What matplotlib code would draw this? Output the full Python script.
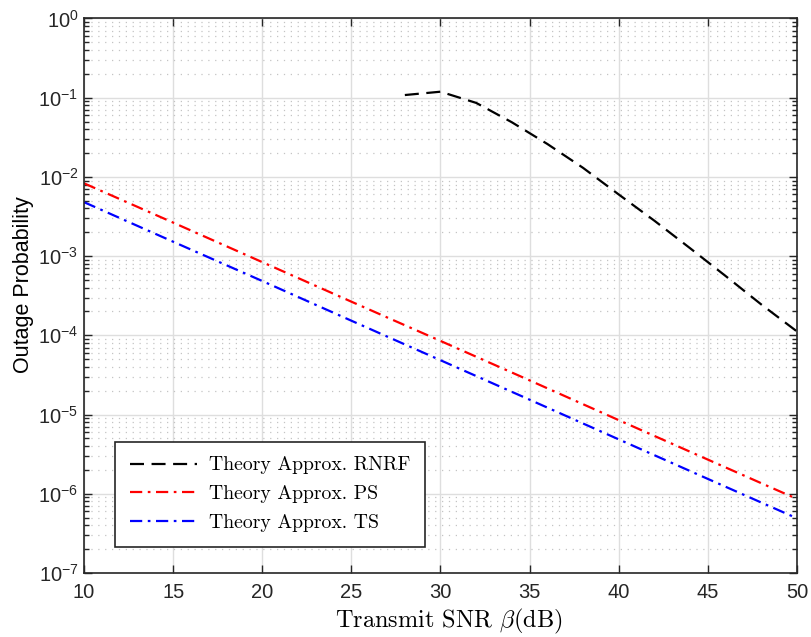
import numpy as np
import matplotlib
matplotlib.use('Agg')
import matplotlib.pyplot as plt
from matplotlib.ticker import LogLocator, MultipleLocator, NullFormatter

plt.rcParams['font.family'] = ['Liberation Sans', 'DejaVu Sans']
plt.rcParams['mathtext.fontset'] = 'custom'
plt.rcParams['mathtext.rm'] = 'Liberation Sans'
plt.rcParams['mathtext.it'] = 'Liberation Sans:italic'

# data
snr_ps = [10, 15, 20, 25, 30, 35, 40, 45, 50]
ps = [8.3e-3, 2.65e-3, 8.4e-4, 2.66e-4, 8.5e-5, 2.7e-5, 8.5e-6, 2.7e-6, 8.6e-7]
ts = [4.8e-3, 1.52e-3, 4.85e-4, 1.53e-4, 4.85e-5, 1.54e-5, 4.86e-6, 1.54e-6, 4.9e-7]

snr_rnrf = [28, 30, 32, 34, 36, 38, 40, 42, 44, 46, 48, 50]
rnrf = [0.108, 0.119, 0.086, 0.049, 0.026, 0.013, 6.0e-3, 2.8e-3, 1.26e-3, 5.6e-4, 2.45e-4, 1.12e-4]

labels = ['Theory Approx. RNRF', 'Theory Approx. PS', 'Theory Approx. TS']

fig = plt.figure(figsize=(8.11, 6.37), dpi=100)
ax = fig.add_axes([0.1036, 0.1005, 0.8791, 0.8705])

ax.semilogy(snr_rnrf, rnrf, color='k', lw=1.6, dashes=(6.3, 3.4), label=labels[0])
ax.semilogy(snr_ps, ps, color='r', lw=1.6, dashes=(5.5, 2.5, 1.2, 2.5), label=labels[1])
ax.semilogy(snr_ps, ts, color='b', lw=1.6, dashes=(5.5, 2.5, 1.2, 2.5), label=labels[2])

ax.set_xlim(10, 50)
ax.set_ylim(1e-7, 1)
ax.xaxis.set_major_locator(MultipleLocator(5))
ax.yaxis.set_major_locator(LogLocator(base=10, numticks=20))
ax.yaxis.set_minor_locator(LogLocator(base=10, subs=np.arange(2, 10), numticks=20))
ax.yaxis.set_minor_formatter(NullFormatter())

ax.grid(True, which='major', color='#dedede', lw=1.0, ls='-')
ax.grid(True, which='minor', axis='y', color='#c4c4c4', lw=0.9, ls=(0, (1, 4.5)))
ax.set_axisbelow(True)

ax.tick_params(which='both', direction='in', top=True, right=True, color='#262626',
               labelsize=14.5, labelcolor='#262626')
ax.tick_params(which='major', length=6, width=1.0)
ax.tick_params(which='minor', length=3.5, width=1.0)
ax.tick_params(axis='x', pad=7)
ax.tick_params(axis='y', pad=4)
for s in ax.spines.values():
    s.set_color('#262626')
    s.set_linewidth(1.2)

ax.set_xlabel(r'Transmit SNR $\beta$(dB)', fontfamily='cmr10', math_fontfamily='cm',
              fontsize=17.5)
ax.xaxis.set_label_coords(0.512, -0.062)
ax.set_ylabel('Outage Probability', fontsize=15.5)
ax.yaxis.set_label_coords(-0.070, 0.52)

leg = ax.legend(loc='lower left', bbox_to_anchor=(0.0435, 0.047), borderaxespad=0,
                prop={'family': 'cmr10', 'size': 14.2},
                handlelength=3.4, handletextpad=0.6, fancybox=False, framealpha=1, edgecolor='#262626',
                borderpad=0.75, labelspacing=0.55)
leg.get_frame().set_linewidth(1.2)

fig.savefig('out.png', dpi=100)
